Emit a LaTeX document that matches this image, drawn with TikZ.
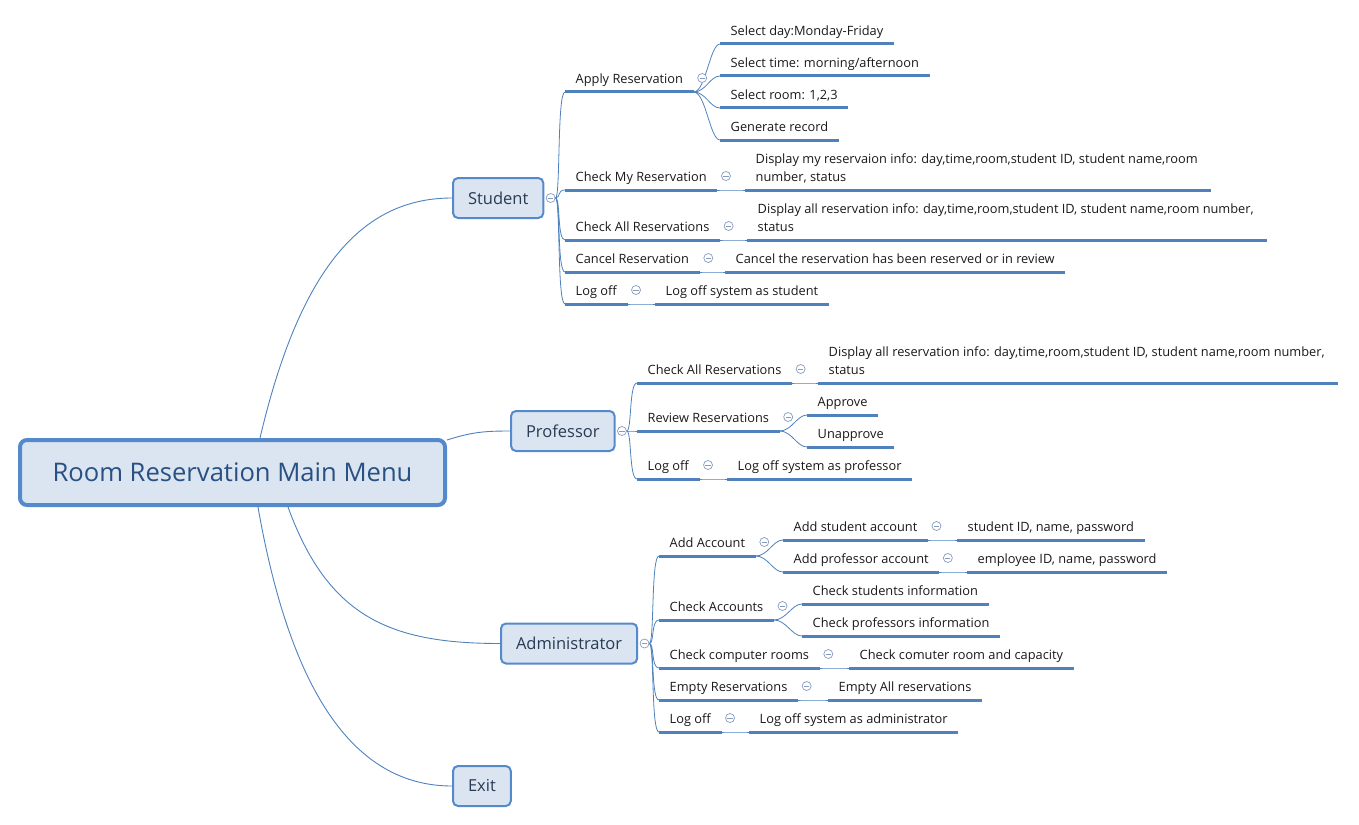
\documentclass[tikz,border=0pt]{standalone}
\usepackage{fontspec}
\setmainfont{Open Sans}
\usetikzlibrary{positioning}
\definecolor{LineBlue}{RGB}{79,129,189}
\definecolor{BoxBlue}{RGB}{84,138,204}
\definecolor{BoxFill}{RGB}{219,229,241}
\definecolor{RootText}{RGB}{40,80,130}
\definecolor{MenuText}{RGB}{40,58,84}
\definecolor{LeafText}{RGB}{25,25,25}
\definecolor{FoldGray}{RGB}{135,155,188}
\tikzset{
  mainbox/.style={draw=BoxBlue,line width=4pt,rounded corners=7pt,fill=BoxFill,
    minimum width=425pt,minimum height=65pt,text=RootText,
    font=\fontsize{25.6}{30}\selectfont},
  menubox/.style={draw=BoxBlue,line width=2pt,rounded corners=5pt,fill=BoxFill,
    inner xsep=15pt,minimum height=40pt,text=MenuText,anchor=west,
    font=\fontsize{16.5}{20}\selectfont},
  topic/.style={anchor=south west,inner xsep=10.5pt,inner ysep=5.4pt,
    text height=9.5pt,text depth=3pt,text=LeafText,
    font=\fontsize{12.8}{18}\selectfont},
  note/.style={topic,align=left,inner xsep=13pt},
  fold/.style={circle,draw=FoldGray,line width=0.7pt,minimum size=9pt,
    inner sep=0pt,fill=white,
    path picture={\draw[FoldGray,line width=0.7pt]
      ([xshift=-2.6pt]path picture bounding box.center) --
      ([xshift=2.6pt]path picture bounding box.center);}},
  uline/.style={line width=3pt,LineBlue},
  branch/.style={line width=0.8pt,LineBlue},
  link/.style={line width=0.9pt,LineBlue}
}
\begin{document}
\begin{tikzpicture}[x=1pt,y=-1pt]
  \useasboundingbox (0,0) rectangle (1359,824);
  % Main menu and the four menus
  \node[mainbox] (root) at (232.5,472.5) {Room Reservation Main Menu};
  \node[menubox] (student) at (452,198) {Student};
  \node[menubox] (professor) at (510,431) {Professor};
  \node[menubox] (admin) at (500,643.5) {Administrator};
  \node[menubox] (exit) at (452,786) {Exit};
  \node[fold,right=1.5pt of student] (fstudent) {};
  \node[fold,right=1.5pt of professor] (fprofessor) {};
  \node[fold,right=1.5pt of admin] (fadmin) {};
  \draw[link] ([xshift=27.5pt]root.north) .. controls +(40,-170) and +(-90,0) .. (student.west);
  \draw[link] ([yshift=-2pt]root.north east) .. controls +(25,-8) and +(-25,0) .. (professor.west);
  \draw[link] ([xshift=55.5pt]root.south) .. controls +(40,110) and +(-110,0) .. (admin.west);
  \draw[link] ([xshift=25.5pt]root.south) .. controls +(35,200) and +(-90,0) .. (exit.west);
  % Student
  \node[topic] (apply) at (565,92) {Apply Reservation};
  \node[topic] (sday) at (720,44) {Select day:Monday-Friday};
  \node[topic] (stime) at (720,76) {Select time: morning/afternoon};
  \node[topic] (sroom) at (720,108) {Select room: 1,2,3};
  \node[topic] (genrec) at (720,140) {Generate record};
  \node[topic] (checkmy) at (565,190) {Check My Reservation};
  \node[note] (checkmyinfo) at (745,190) {\hspace{-2.5pt}Display my reservaion info: day,time,room,student ID, student name,room\\\hspace{-2.5pt}number, status};
  \node[topic] (checkall) at (565,240) {Check All Reservations};
  \node[note] (checkallinfo) at (747,240) {\hspace{-2.5pt}Display all reservation info: day,time,room,student ID, student name,room number,\\\hspace{-2.5pt}status};
  \node[topic] (cancel) at (565,272) {Cancel Reservation};
  \node[topic] (cancelinfo) at (725,272) {Cancel the reservation has been reserved or in review};
  \node[topic] (slog) at (565,304) {Log off};
  \node[topic] (sloginfo) at (655,304) {Log off system as student};
  % Professor
  \node[topic] (pcheck) at (637,383) {Check All Reservations};
  \node[note] (pcheckinfo) at (818,383) {\hspace{-2.5pt}Display all reservation info: day,time,room,student ID, student name,room number,\\\hspace{-2.5pt}status};
  \node[topic] (preview) at (637,431) {Review Reservations};
  \node[topic] (approve) at (807,415) {Approve};
  \node[topic] (unapprove) at (807,447) {Unapprove};
  \node[topic] (plog) at (637,479) {Log off};
  \node[topic] (ploginfo) at (727,479) {Log off system as professor};
  % Administrator
  \node[topic] (addacc) at (659,556) {Add Account};
  \node[topic] (addstu) at (783,540) {Add student account};
  \node[topic] (addstuinfo) at (957,540) {student ID, name, password};
  \node[topic] (addprof) at (783,572) {Add professor account};
  \node[topic] (addprofinfo) at (967,572) {employee ID, name, password};
  \node[topic] (checkacc) at (659,620) {Check Accounts};
  \node[topic] (checkstu) at (802,604) {Check students information};
  \node[topic] (checkprof) at (802,636) {Check professors information};
  \node[topic] (rooms) at (659,668) {Check computer rooms};
  \node[topic] (roomsinfo) at (849,668) {Check comuter room and capacity};
  \node[topic] (empty) at (659,700) {Empty Reservations};
  \node[topic] (emptyinfo) at (828,700) {Empty All reservations};
  \node[topic] (alog) at (659,732) {Log off};
  \node[topic] (aloginfo) at (749,732) {Log off system as administrator};
  % connectors
  \foreach \kid in {apply,checkmy,checkall,cancel,slog}
    \draw[branch] (fstudent.east) .. controls +(5,0) and +(-8,0) .. (\kid.south west);
  \foreach \kid in {pcheck,preview,plog}
    \draw[branch] (fprofessor.east) .. controls +(5,0) and +(-8,0) .. (\kid.south west);
  \foreach \kid in {addacc,checkacc,rooms,empty,alog}
    \draw[branch] (fadmin.east) .. controls +(5,0) and +(-8,0) .. (\kid.south west);
  \foreach \pp/\kid in {apply/sday,apply/stime,apply/sroom,apply/genrec,
      checkmy/checkmyinfo,checkall/checkallinfo,cancel/cancelinfo,slog/sloginfo,
      pcheck/pcheckinfo,preview/approve,preview/unapprove,plog/ploginfo,
      addacc/addstu,addacc/addprof,addstu/addstuinfo,addprof/addprofinfo,
      checkacc/checkstu,checkacc/checkprof,rooms/roomsinfo,empty/emptyinfo,alog/aloginfo}
    \draw[branch] (\pp.south east) .. controls +(12,0) and +(-10,0) .. (\kid.south west);
  % underlines
  \foreach \n in {apply,sday,stime,sroom,genrec,checkmy,checkmyinfo,checkall,checkallinfo,
      cancel,cancelinfo,slog,sloginfo,pcheck,pcheckinfo,preview,approve,unapprove,plog,ploginfo,
      addacc,addstu,addstuinfo,addprof,addprofinfo,checkacc,checkstu,checkprof,
      rooms,roomsinfo,empty,emptyinfo,alog,aloginfo}
    \draw[uline] (\n.south west) -- (\n.south east);
  % fold marks
  \foreach \n in {apply,checkmy,checkall,cancel,slog,pcheck,preview,plog,
      addacc,addstu,addprof,checkacc,rooms,empty,alog}
    \node[fold] (f\n) at ([shift={(8.5pt,14pt)}]\n.south east) {};
\end{tikzpicture}
\end{document}
